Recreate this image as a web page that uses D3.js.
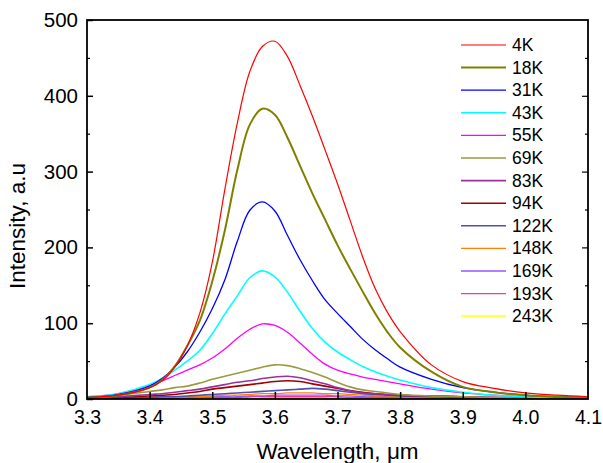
<!DOCTYPE html>
<html>
<head>
<meta charset="utf-8">
<script src="https://cdn.jsdelivr.net/npm/d3@7"></script>
<style>
  html, body { margin: 0; padding: 0; background: #fff; }
  svg { display: block; font-family: "Liberation Sans", Arial, sans-serif; }
</style>
</head>
<body>
<svg id="chart" width="603" height="463"></svg>
<script>
// Wavelength grid (µm) shared by all photoluminescence spectra
const wavelengths = [3.30, 3.35, 3.40, 3.42, 3.44, 3.46, 3.48, 3.50, 3.52, 3.54, 3.56, 3.58, 3.60, 3.62, 3.64,
                     3.66, 3.68, 3.70, 3.72, 3.74, 3.76, 3.78, 3.80, 3.85, 3.90, 3.95, 4.00, 4.05, 4.10];

// Temperature labels of each spectrum
const temperatures = ["4K", "18K", "31K", "43K", "55K", "69K", "83K", "94K", "122K", "148K", "169K", "193K", "243K"];

// Intensity (a.u.) per temperature on the wavelength grid
const i4K   = [2, 5, 15, 24, 42, 70, 113, 180, 276, 364, 432, 465, 472, 452, 414, 373, 329, 284, 236, 188, 146, 114, 89, 45, 23, 14, 8, 5, 3];
const i18K  = [2, 5, 15, 25, 43, 70, 103, 155, 222, 302, 362, 383, 375, 345, 308, 271, 237, 203, 172, 142, 113, 88, 68, 36, 16, 9, 5, 3, 2];
const i31K  = [2, 6, 17, 27, 42, 62, 88, 119, 157, 208, 249, 260, 248, 216, 184, 156, 131, 113, 96, 79, 65, 53, 42, 26, 15, 9, 5, 3, 2];
const i43K  = [3, 7, 19, 27, 38, 50, 64, 86, 112, 136, 160, 169, 161, 141, 116, 93, 75, 62, 52, 43, 36, 30, 25, 15, 9, 5, 3, 2, 1];
const i55K  = [3, 7, 18, 24, 31, 38, 45, 54, 66, 80, 92, 99, 97, 88, 74, 59, 46, 38, 33, 29, 26, 23, 20, 13, 8, 5, 3, 2, 1];
const i69K  = [2, 5, 10, 12, 15, 17, 21, 26, 30, 34, 38, 42, 45, 44, 40, 35, 29, 22, 16, 12, 10, 8, 6, 4, 3, 2, 2, 1, 1];
const i83K  = [1, 3, 6, 7, 9, 11, 13, 16, 19, 22, 24, 27, 29, 30, 28, 24, 20, 15, 11, 8, 7, 6, 5, 4, 3, 2, 2, 1, 1];
const i94K  = [1, 2, 4, 5, 6, 8, 10, 13, 15, 17, 19, 21, 23, 24, 23, 20, 17, 14, 11, 9, 7, 6, 5, 4, 3, 2, 2, 1, 1];
const i122K = [1, 1, 2, 3, 3, 4, 5, 6, 7, 8, 9, 10, 11, 12, 13, 14, 13, 11, 9, 7, 6, 5, 4, 3, 2, 2, 1, 1, 1];
const i148K = [1, 1, 2, 2, 2, 3, 3, 4, 5, 5, 6, 7, 7, 8, 8, 8, 7, 7, 6, 5, 4, 4, 3, 2, 2, 1, 1, 1, 0];
const i169K = [0, 1, 1, 1, 2, 2, 2, 3, 3, 3, 4, 4, 5, 5, 5, 5, 5, 4, 4, 3, 3, 3, 2, 2, 1, 1, 1, 1, 0];
const i193K = [1, 1, 1, 1, 1, 2, 2, 2, 2, 2, 3, 3, 3, 3, 3, 3, 3, 3, 2, 2, 2, 2, 2, 1, 1, 1, 1, 1, 0];
const i243K = [0, 0, 0, 1, 1, 1, 1, 1, 1, 1, 1, 1, 1, 1, 1, 1, 1, 1, 1, 1, 1, 1, 1, 1, 1, 0, 0, 0, 0];

const intensities = [i4K, i18K, i31K, i43K, i55K, i69K, i83K, i94K, i122K, i148K, i169K, i193K, i243K];

// Axis tick values
const xTicks = [3.3, 3.4, 3.5, 3.6, 3.7, 3.8, 3.9, 4.0, 4.1];
const yTicks = [0, 100, 200, 300, 400, 500];
const yMinorTicks = [50, 150, 250, 350, 450];

// Line colours and widths per temperature
const colors = ["#ff0000", "#808000", "#0000ff", "#00ffff", "#ff00ff", "#9a9a40", "#993399", "#a00000",
                "#5050b0", "#ff8000", "#9955ff", "#ff3399", "#ffff00"];
const widths = [1.2, 2, 1.3, 1.6, 1.3, 1.6, 1.6, 1.6, 1.6, 1.3, 1.3, 1.3, 1.3];

const svg = d3.select("#chart");
const plotLeft = 87, plotRight = 588, plotTop = 20, plotBottom = 399;

const x = d3.scaleLinear().domain([3.3, 4.1]).range([plotLeft, plotRight]);
const y = d3.scaleLinear().domain([0, 500]).range([plotBottom, plotTop]);

// Clip spectra to the plot frame
svg.append("defs").append("clipPath").attr("id", "plotClip")
  .append("rect").attr("x", plotLeft).attr("y", plotTop)
  .attr("width", plotRight - plotLeft).attr("height", plotBottom - plotTop);

const line = d3.line()
  .x((d, i) => x(wavelengths[i]))
  .y(d => y(d))
  .curve(d3.curveCatmullRom.alpha(0.5));

const plot = svg.append("g").attr("clip-path", "url(#plotClip)");
// Draw weakest spectra first so the strong ones sit on top
for (let k = intensities.length - 1; k >= 0; k--) {
  plot.append("path")
    .attr("d", line(intensities[k]))
    .attr("fill", "none")
    .attr("stroke", colors[k])
    .attr("stroke-width", widths[k])
    .attr("stroke-linejoin", "round");
}

// Axes with inward ticks
const axisColor = "#000";
const fontFam = "Liberation Sans, Arial, sans-serif";
const xAxis = d3.axisBottom(x).tickValues(xTicks).tickSize(-7).tickPadding(11).tickFormat(d3.format(".1f"));
const gx = svg.append("g").attr("transform", `translate(0,${plotBottom})`).call(xAxis);
gx.select(".domain").remove();
gx.selectAll(".tick text").attr("font-size", 19.5).attr("fill", "#000").attr("font-family", fontFam);
gx.selectAll(".tick line").attr("stroke", axisColor).attr("stroke-width", 1.5);
gx.selectAll(".tick").filter(d => d === 3.3 || d === 4.1).select("line").remove();

const yAxis = d3.axisLeft(y).tickValues(yTicks).tickSize(-6).tickPadding(9).tickFormat(d3.format("d"));
const gy = svg.append("g").attr("transform", `translate(${plotLeft},0)`).call(yAxis);
gy.select(".domain").remove();
gy.selectAll(".tick text").attr("font-size", 20.5).attr("fill", "#000").attr("font-family", fontFam);
gy.selectAll(".tick line").attr("stroke", axisColor).attr("stroke-width", 1.5);

const yMinor = d3.axisLeft(y).tickValues(yMinorTicks).tickSize(-3).tickFormat("");
const gym = svg.append("g").attr("transform", `translate(${plotLeft},0)`).call(yMinor);
gym.select(".domain").remove();
gym.selectAll(".tick line").attr("stroke", axisColor).attr("stroke-width", 1.2);

// Mirrored ticks on the right edge
const yRight = d3.axisRight(y).tickValues(yTicks.slice(1, -1)).tickSize(-6).tickFormat("");
const gr = svg.append("g").attr("transform", `translate(${plotRight},0)`).call(yRight);
gr.select(".domain").remove();
gr.selectAll(".tick line").attr("stroke", axisColor).attr("stroke-width", 1.2);
const yRightMinor = d3.axisRight(y).tickValues(yMinorTicks).tickSize(-3).tickFormat("");
const grm = svg.append("g").attr("transform", `translate(${plotRight},0)`).call(yRightMinor);
grm.select(".domain").remove();
grm.selectAll(".tick line").attr("stroke", axisColor).attr("stroke-width", 1.2);

// Frame
svg.append("rect")
  .attr("x", plotLeft).attr("y", plotTop)
  .attr("width", plotRight - plotLeft).attr("height", plotBottom - plotTop)
  .attr("fill", "none").attr("stroke", "#000").attr("stroke-width", 1.8);

// Axis titles
svg.append("text")
  .attr("x", (plotLeft + plotRight) / 2).attr("y", 459)
  .attr("text-anchor", "middle").attr("font-size", 22.5)
  .text("Wavelength, \u03bcm");

svg.append("text")
  .attr("transform", "translate(25,226) rotate(-90)")
  .attr("text-anchor", "middle").attr("font-size", 22.5)
  .text("Intensity, a.u");

// Legend
const legend = svg.append("g");
const legX0 = 461, legX1 = 506, legY0 = 45, legDy = 22.6;
temperatures.forEach((t, k) => {
  const yy = legY0 + k * legDy;
  legend.append("line")
    .attr("x1", legX0).attr("x2", legX1).attr("y1", yy).attr("y2", yy)
    .attr("stroke", colors[k]).attr("stroke-width", widths[k]);
  legend.append("text")
    .attr("x", legX1 + 6).attr("y", yy + 6)
    .attr("font-size", 17.5).attr("fill", "#000")
    .text(t);
});
</script>
</body>
</html>
